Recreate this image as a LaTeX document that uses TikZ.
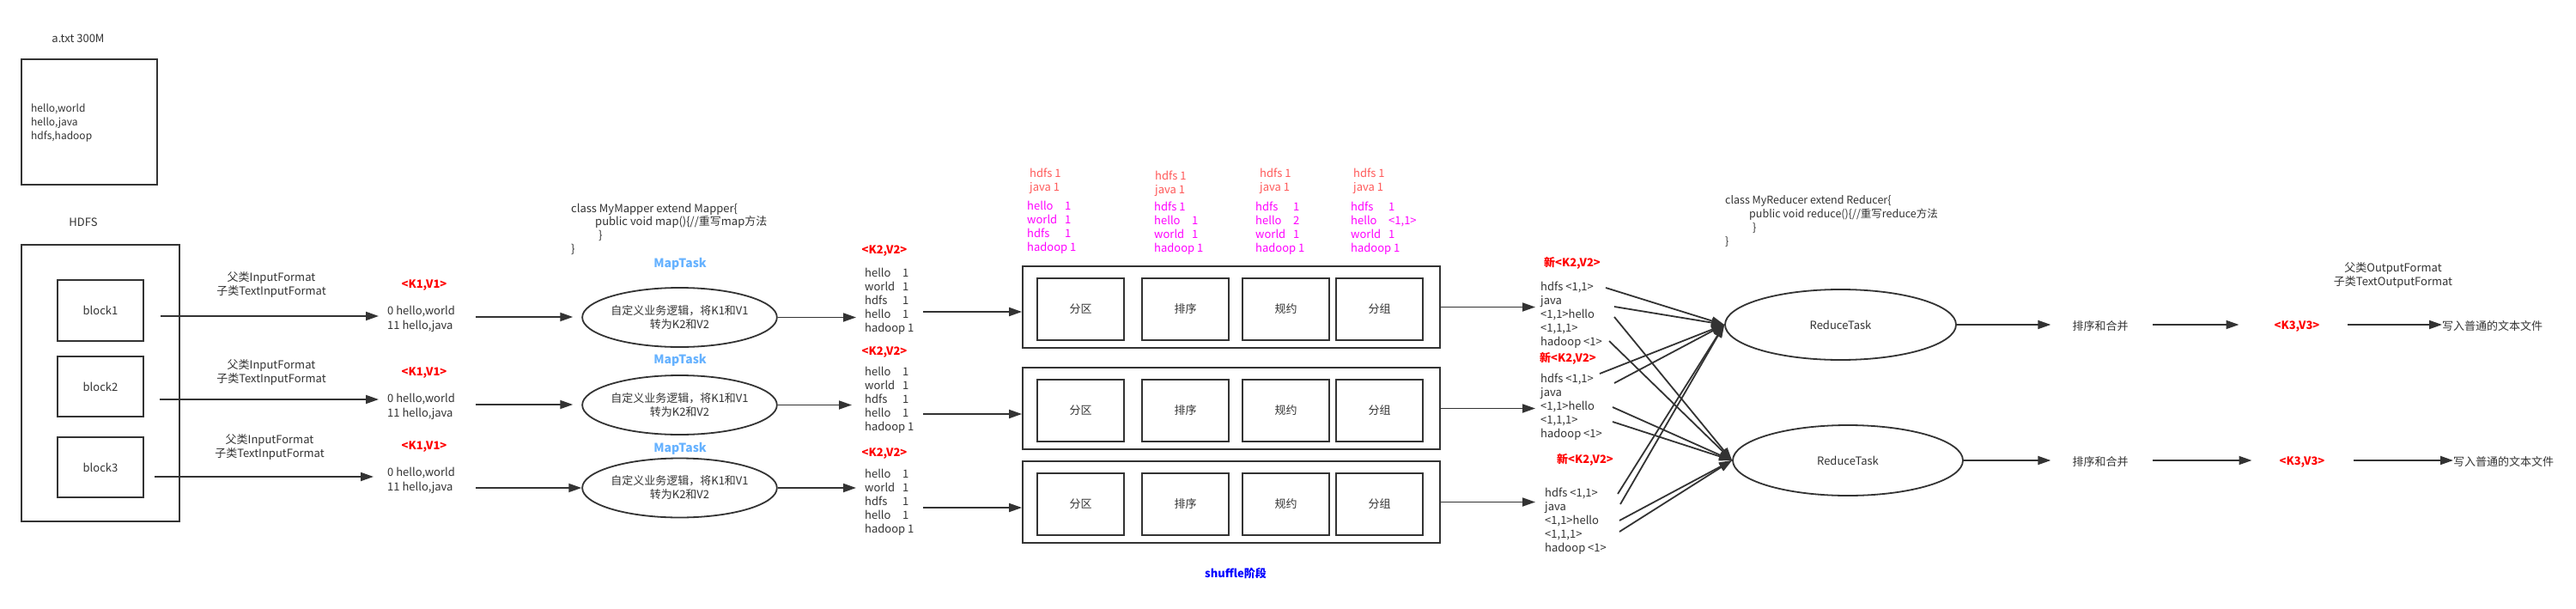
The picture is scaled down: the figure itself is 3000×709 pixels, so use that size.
\documentclass[tikz,border=0pt]{standalone}
\usepackage{fontspec}
\setmainfont{Noto Sans CJK SC}
\usetikzlibrary{arrows.meta,shapes.geometric,calc}
\definecolor{lc}{HTML}{333333}
\definecolor{tc}{HTML}{333333}
\definecolor{kred}{HTML}{FF0000}
\definecolor{salmon}{HTML}{FF5A5A}
\definecolor{mag}{HTML}{FF00FF}
\definecolor{mblue}{HTML}{66B2FF}
\definecolor{sblue}{HTML}{0000FF}
\newcommand\kw[1]{\makebox[44pt][l]{#1}}
\begin{document}
\begin{tikzpicture}[x=1pt,y=-1pt,
  txt/.style={font=\fontsize{13}{16}\selectfont, text=tc, inner sep=0pt},
  ml/.style={txt, align=left, anchor=west},
  cl/.style={txt, align=center},
  kv/.style={txt, font=\fontsize{13}{16}\selectfont\bfseries, text=kred},
  box/.style={draw=lc, line width=1.8pt, inner sep=0pt},
  blk/.style={box, font=\fontsize{13}{16}\selectfont, text=tc},
  ell/.style={blk, ellipse, align=center},
  arr/.style={draw=lc, line width=1.8pt, -{Triangle[length=15pt,width=10pt]}}]
\fill[white] (0,0) rectangle (3000,709);
\useasboundingbox (0,0) rectangle (3000,709);

% file
\node[txt] (title) at (91,45) {a.txt 300M};
\node[box, minimum width=158, minimum height=146] (file) at (104,142) {};
\node[ml, font=\fontsize{12}{15.75}\selectfont] (filetxt) at (36,143) {hello,world\\hello,java\\hdfs,hadoop};

% HDFS
\node[txt] (hdfslbl) at (97,259) {HDFS};
\node[box, minimum width=184, minimum height=322] (hdfs) at (117,446) {};
\node[blk, minimum width=100, minimum height=71] (b1) at (117,361.5) {block1};
\node[blk, minimum width=100, minimum height=70] (b2) at (117,450) {block2};
\node[blk, minimum width=100, minimum height=70] (b3) at (117,544) {block3};
\coordinate (s1) at (187,368);
\coordinate (s2) at (186,465);
\coordinate (s3) at (180,555);

\node[cl] (fmt1) at (316,332) {父类InputFormat\\子类TextInputFormat};
\node[cl] (fmt2) at (316,434) {父类InputFormat\\子类TextInputFormat};
\node[cl] (fmt3) at (314,521) {父类InputFormat\\子类TextInputFormat};

\node[kv] (k1a) at (494,332) {<K1,V1>};
\node[kv] (k1b) at (494,434) {<K1,V1>};
\node[kv] (k1c) at (494,520) {<K1,V1>};

\node[ml, font=\fontsize{13}{16.7}\selectfont] (d1) at (451,371.5) {0 hello,world\\11 hello,java};
\node[ml, font=\fontsize{13}{16.7}\selectfont] (d2) at (451,473.5) {0 hello,world\\11 hello,java};
\node[ml, font=\fontsize{13}{16.7}\selectfont] (d3) at (451,559.5) {0 hello,world\\11 hello,java};

\draw[arr] (s1) -- ($(s1 -| d1.west)+(-10,0)$);
\draw[arr] (s2) -- ($(s2 -| d2.west)+(-10,0)$);
\draw[arr] (s3) -- ($(s3 -| d3.west)+(-16,0)$);

% map
\node[ml, font=\fontsize{13}{15.7}\selectfont] (mapcode) at (665,266.5) {class MyMapper extend Mapper\{\\\hspace*{28pt}public void map()\{//重写map方法\\\hspace*{32pt}\}\\\}};
\node[txt, font=\fontsize{14}{16}\selectfont\bfseries, text=mblue] (mt1) at (792,307) {MapTask};
\node[txt, font=\fontsize{14}{16}\selectfont\bfseries, text=mblue] (mt2) at (792,419) {MapTask};
\node[txt, font=\fontsize{14}{16}\selectfont\bfseries, text=mblue] (mt3) at (792,522) {MapTask};
\node[ell, minimum width=189, minimum height=69] (e1) at (791.5,369.5) {自定义业务逻辑，将K1和V1\\转为K2和V2};
\node[ell, minimum width=189, minimum height=69] (e2) at (791.5,471.5) {自定义业务逻辑，将K1和V1\\转为K2和V2};
\node[ell, minimum width=189, minimum height=69] (e3) at (791.5,568) {自定义业务逻辑，将K1和V1\\转为K2和V2};
\coordinate (a1) at (554,369);
\coordinate (a2) at (554,471);
\coordinate (a3) at (554,568);
\draw[arr] (a1) -- ($(a1 -| e1.west)+(-10,0)$);
\draw[arr] (a2) -- ($(a2 -| e2.west)+(-10,0)$);
\draw[arr] (a3) -- (a3 -| e3.west);

% K2 V2
\node[kv] (k2a) at (1030,292) {<K2,V2>};
\node[kv] (k2b) at (1030,410) {<K2,V2>};
\node[kv] (k2c) at (1030,528) {<K2,V2>};
\node[ml] (kd1) at (1007,351) {\kw{hello}1\\\kw{world}1\\\kw{hdfs}1\\\kw{hello}1\\hadoop 1};
\node[ml] (kd2) at (1007,466) {\kw{hello}1\\\kw{world}1\\\kw{hdfs}1\\\kw{hello}1\\hadoop 1};
\node[ml] (kd3) at (1007,585) {\kw{hello}1\\\kw{world}1\\\kw{hdfs}1\\\kw{hello}1\\hadoop 1};
\draw[arr] (e1.east) -- ($(e1.east -| kd1.west)+(-10,0)$);
\draw[arr] (e2.east) -- ($(e2.east -| kd2.west)+(-15,0)$);
\draw[arr] (e3.east) -- ($(e3.east -| kd3.west)+(-10,0)$);

% shuffle
\foreach \i/\y in {1/357.5,2/475.5,3/584.5}{
  \node[box, minimum width=486, minimum height=95] (sb\i) at (1434,\y) {};
  \node[blk, minimum width=101, minimum height=72] (fq\i) at (1258.5,\y+2.5) {分区};
  \node[blk, minimum width=101, minimum height=72] (px\i) at (1380.5,\y+2.5) {排序};
  \node[blk, minimum width=101, minimum height=72] (gy\i) at (1497.5,\y+2.5) {规约};
  \node[blk, minimum width=101, minimum height=72] (fz\i) at (1606.5,\y+2.5) {分组};
}
\coordinate (c1) at (1075,363);
\coordinate (c2) at (1075,482);
\coordinate (c3) at (1075,591);
\draw[arr] (c1) -- (c1 -| sb1.west);
\draw[arr] (c2) -- (c2 -| sb2.west);
\draw[arr] (c3) -- (c3 -| sb3.west);
\node[cl] (shuf) at (1439,667) {\bfseries\color{sblue}shuffle阶段};

% annotations
\node[ml, text=salmon] (an1r) at (1199,211) {hdfs 1\\java 1};
\node[ml, text=mag] (an1m) at (1196,265) {\kw{hello}1\\\kw{world}1\\\kw{hdfs}1\\hadoop 1};
\node[ml, text=salmon] (an2r) at (1345,214) {hdfs 1\\java 1};
\node[ml, text=mag] (an2m) at (1344,266) {hdfs 1\\\kw{hello}1\\\kw{world}1\\hadoop 1};
\node[ml, text=salmon] (an3r) at (1467,211) {hdfs 1\\java 1};
\node[ml, text=mag] (an3m) at (1462,266) {\kw{hdfs}1\\\kw{hello}2\\\kw{world}1\\hadoop 1};
\node[ml, text=salmon] (an4r) at (1576,211) {hdfs 1\\java 1};
\node[ml, text=mag] (an4m) at (1573,266) {\kw{hdfs}1\\\kw{hello}<1,1>\\\kw{world}1\\hadoop 1};

% new K2 V2
\node[kv] (nk1) at (1831,306) {新<K2,V2>};
\node[kv] (nk2) at (1826,417) {新<K2,V2>};
\node[kv] (nk3) at (1846,535) {新<K2,V2>};
\node[ml] (nd1) at (1794,367) {hdfs <1,1>\\java\\<1,1>hello\\<1,1,1>\\hadoop <1>};
\node[ml] (nd2) at (1794,474) {hdfs <1,1>\\java\\<1,1>hello\\<1,1,1>\\hadoop <1>};
\node[ml] (nd3) at (1799,607) {hdfs <1,1>\\java\\<1,1>hello\\<1,1,1>\\hadoop <1>};
\draw[arr] (sb1.east) -- ($(sb1.east -| nd1.west)+(-6,0)$);
\draw[arr] (sb2.east) -- ($(sb2.east -| nd2.west)+(-6,0)$);
\draw[arr] (sb3.east) -- ($(sb3.east -| nd3.west)+(-11,0)$);

% reduce
\node[ml, font=\fontsize{12.5}{16}\selectfont] (redcode) at (2009,258) {class MyReducer extend Reducer\{\\\hspace*{28pt}public void reduce()\{//重写reduce方法\\\hspace*{32pt}\}\\\}};
\node[ell, minimum width=269, minimum height=82] (r1) at (2143.5,378) {ReduceTask};
\node[ell, minimum width=268, minimum height=82] (r2) at (2152,536) {ReduceTask};
\coordinate (u1) at (1870,335);
\coordinate (u2) at (1880,357);
\coordinate (u3) at (1863,435);
\coordinate (u4) at (1880,446);
\coordinate (u5) at (1884,575);
\coordinate (u6) at (1887,587);
\coordinate (w1) at (1880,369);
\coordinate (w2) at (1874,397);
\coordinate (w3) at (1878,474);
\coordinate (w4) at (1878,491);
\coordinate (w5) at (1886,606);
\coordinate (w6) at (1886,619);
\foreach \c in {u1,u2,u3,u4,u5,u6}{\draw[arr] (\c) -- (r1.west);}
\foreach \c in {w1,w2,w3,w4,w5,w6}{\draw[arr] (\c) -- (r2.west);}

\node[txt] (m1) at (2446,380) {排序和合并};
\node[txt] (m2) at (2446,538) {排序和合并};
\draw[arr] (r1.east) -- ($(r1.east -| m1.west)+(-25,0)$);
\draw[arr] (r2.east) -- ($(r2.east -| m2.west)+(-25,0)$);

\node[kv] (k3a) at (2675,380) {<K3,V3>};
\node[kv] (k3b) at (2681,538) {<K3,V3>};
\coordinate (q1) at (2507,378);
\coordinate (q2) at (2507,536);
\draw[arr] (q1) -- ($(q1 -| k3a.west)+(-41,0)$);
\draw[arr] (q2) -- ($(q2 -| k3b.west)+(-32,0)$);

\node[cl] (ofmt) at (2787,321) {父类OutputFormat\\子类TextOutputFormat};
\node[ml] (wf1) at (2844,380) {写入普通的文本文件};
\node[ml] (wf2) at (2857,538) {写入普通的文本文件};
\coordinate (o1) at (2734,378);
\coordinate (o2) at (2741,536);
\draw[arr] (o1) -- (o1 -| wf1.west);
\draw[arr] (o2) -- (o2 -| wf2.west);
\end{tikzpicture}
\end{document}
